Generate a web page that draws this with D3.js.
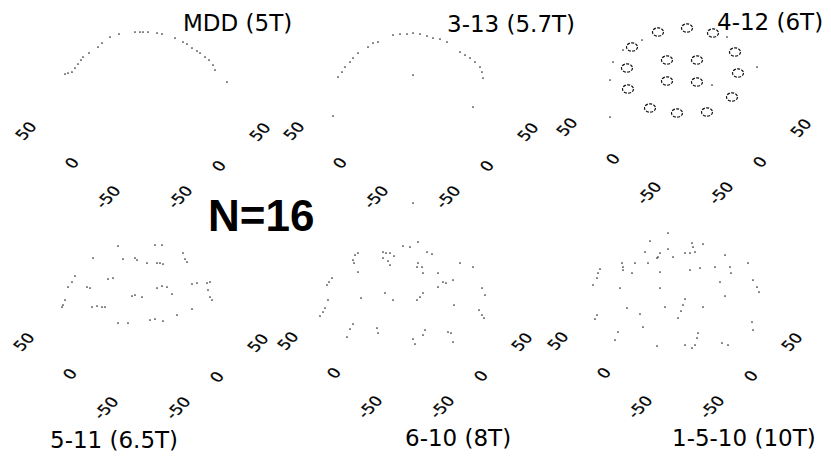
<!DOCTYPE html>
<html>
<head>
<meta charset="utf-8">
<script src="https://cdn.jsdelivr.net/npm/d3@7"></script>
<style>
  html, body { margin: 0; padding: 0; background: #fff; }
  svg { display: block; }
</style>
</head>
<body>
<svg id="chart" width="831" height="458"></svg>
<script>
// ---- data -------------------------------------------------------------
// Panel titles (design and field strength)
const titles = ["MDD (5T)", "3-13 (5.7T)", "4-12 (6T)", "5-11 (6.5T)", "6-10 (8T)", "1-5-10 (10T)"];
const sampleLabel = "N=16";

// Floor axis tick values (both horizontal axes)
const tickValues = [-50, 0, 50];

// Projected positions of the recorded points, [across, height] in plot units
const mdd5T = [
  [-79,123],[-76,124],[-72,125],[-69,129],[-66,133],[-63,137],[-61,140],[-55,144],
  [-46,150],[-42,154],[-34,160],[-25,163],[-9,165],[-4,165],[-1,165],[4,165],
  [13,164],[18,163],[31,159],[39,155],[43,153],[48,149],[53,146],[56,144],
  [61,140],[65,137],[69,132],[71,127],[83,115]
];
const d3_13 = [
  [-74,120],[-70,125],[-67,130],[-62,135],[-59,139],[-54,144],[-44,150],[-39,154],
  [-34,155],[-19,162],[-12,163],[-5,163],[1,164],[8,163],[15,161],[21,159],
  [28,158],[35,155],[48,145],[53,142],[58,139],[63,135],[68,130],[70,125],
  [71,119],[1,122],[61,90],[-79,81],[1,-6]
];
// 4-12: sixteen ring-shaped sites plus stray points
const d4_12Rings = [
  [-27,161],[2,165],[28,160],[-53,146],[50,141],[-58,125],[-18,133],[12,133],
  [53,120],[-57,104],[-18,112],[12,111],[47,96],[-35,85],[-8,80],[22,81]
];
const d4_12 = [
  [-62,143],[-72,131],[-75,113],[-75,76],[72,126],[42,156],[-43,153],[27,108]
];
const d5_11 = [
  [-24,162],[13,163],[20,163],[41,155],[43,149],[45,146],[-49,150],[-19,149],
  [-7,150],[-5,148],[5,145],[15,145],[18,145],[21,144],[-67,132],[-70,126],
  [-74,121],[-77,108],[-79,103],[-80,101],[-55,121],[-52,120],[-34,129],[-29,130],
  [-10,112],[-7,113],[0,111],[15,120],[20,122],[25,121],[30,114],[50,124],
  [55,125],[65,125],[68,126],[66,118],[68,111],[70,108],[-50,101],[-45,102],
  [-40,101],[-37,101],[-24,85],[-14,85],[8,88],[13,89],[21,87],[35,93],[50,99]
];
const d6_10 = [
  [-3,161],[4,160],[12,165],[21,155],[26,153],[-48,154],[-51,152],[-53,147],
  [-52,144],[-48,135],[-23,155],[-20,154],[-16,154],[-23,149],[-18,146],[-16,142],
  [-12,151],[12,144],[16,140],[11,140],[17,134],[54,144],[67,140],[32,134],
  [37,125],[40,124],[47,127],[32,120],[-74,129],[-77,125],[-79,122],[-78,107],
  [-81,99],[-83,95],[-86,91],[-45,109],[-21,114],[-13,107],[11,107],[14,110],
  [17,114],[48,102],[76,119],[79,112],[73,97],[76,92],[78,89],[-53,83],
  [-56,78],[-59,70],[-29,79],[-28,74],[7,68],[9,63],[19,77],[17,72],
  [42,75],[45,74],[47,65]
];
const d1_5_10 = [
  [-8,174],[-26,166],[-31,155],[-16,154],[-18,150],[-19,149],[-8,158],[-3,150],
  [9,154],[16,164],[17,160],[19,155],[27,163],[14,154],[-54,144],[-53,140],
  [-53,137],[-41,144],[-44,134],[-28,144],[-16,135],[14,137],[24,139],[39,140],
  [49,152],[54,140],[55,134],[72,144],[44,125],[49,111],[77,127],[81,120],
  [83,115],[-76,138],[-78,134],[-79,129],[-83,122],[-56,119],[-16,119],[9,108],
  [7,102],[5,96],[2,89],[27,100],[-11,100],[-36,93],[-49,99],[-79,92],
  [-81,88],[-58,75],[-61,67],[-33,80],[-19,61],[22,74],[21,69],[19,62],
  [16,59],[9,62],[46,64],[52,62],[76,85],[77,77]
];

const panelPoints = [mdd5T, d3_13, d4_12, d5_11, d6_10, d1_5_10];
const panelRings  = [[], [], d4_12Rings, [], [], []];

// ---- layout -----------------------------------------------------------
const W = 831, H = 458;
// floor corner of each panel (centre between the two -50 ticks) and title anchor
const frames = [
  { cx: 144, base: 197, tx: 183, ty: 31 },
  { cx: 412, base: 197, tx: 447, ty: 32 },
  { cx: 685, base: 193, tx: 717, ty: 30 },
  { cx: 142, base: 408, tx: 50,  ty: 448 },
  { cx: 406, base: 407, tx: 405, ty: 446 },
  { cx: 676, base: 407, tx: 672, ty: 446 }
];

// the two floor axes, projected: tick value -> [across, height] offsets
const leftAcross  = d3.scaleLinear().domain([-50, 0, 50]).range([-36, -72, -118]);
const leftHeight  = d3.scaleLinear().domain([-50, 0, 50]).range([0, 34, 66]);
const rightAcross = d3.scaleLinear().domain([-50, 0, 50]).range([36, 75, 116]);
const rightHeight = d3.scaleLinear().domain([-50, 0, 50]).range([0, 31, 65]);

const svg = d3.select("#chart");
svg.append("rect").attr("width", W).attr("height", H).attr("fill", "#fff");

const FONT = "'DejaVu Sans', Verdana, sans-serif";

frames.forEach((f, i) => {
  const x = d3.scaleLinear().domain([-150, 150]).range([f.cx - 150, f.cx + 150]);
  const y = d3.scaleLinear().domain([0, 200]).range([f.base, f.base - 200]);
  const g = svg.append("g").attr("class", "panel");

  // tick labels lying on the floor plane
  const ticks = [];
  tickValues.forEach(v => ticks.push({ v, u: leftAcross(v),  h: leftHeight(v) }));
  tickValues.forEach(v => ticks.push({ v, u: rightAcross(v), h: rightHeight(v) }));
  g.selectAll("text.tick").data(ticks).join("text")
    .attr("class", "tick")
    .attr("text-anchor", "middle")
    .attr("dominant-baseline", "central")
    .attr("font-family", FONT)
    .attr("font-size", 16)
    .attr("fill", "#000")
    .attr("stroke", "#000")
    .attr("stroke-width", 0.25)
    .attr("transform", d => `matrix(0.7,-0.71,0.82,0.55,${x(d.u)},${y(d.h)})`)
    .text(d => String(d.v));

  // recorded points
  g.selectAll("circle.pt").data(panelPoints[i]).join("circle")
    .attr("class", "pt")
    .attr("cx", d => x(d[0]))
    .attr("cy", d => y(d[1]))
    .attr("r", 0.85)
    .attr("fill", "#222");

  // ring-shaped sites
  g.selectAll("ellipse.ring").data(panelRings[i]).join("ellipse")
    .attr("class", "ring")
    .attr("cx", d => x(d[0]))
    .attr("cy", d => y(d[1]))
    .attr("rx", 5.5)
    .attr("ry", 4.2)
    .attr("fill", "none")
    .attr("stroke", "#111")
    .attr("stroke-width", 1.2)
    .attr("stroke-dasharray", "3,1.3");

  // title
  svg.append("text")
    .attr("x", f.tx)
    .attr("y", f.ty)
    .attr("font-family", FONT)
    .attr("font-size", 23)
    .attr("fill", "#000")
    .text(titles[i]);
});

svg.append("text")
  .attr("x", 208)
  .attr("y", 231)
  .attr("font-family", "'Liberation Sans', Arial, sans-serif")
  .attr("font-weight", "bold")
  .attr("font-size", 44)
  .attr("fill", "#000")
  .text(sampleLabel);
</script>
</body>
</html>
